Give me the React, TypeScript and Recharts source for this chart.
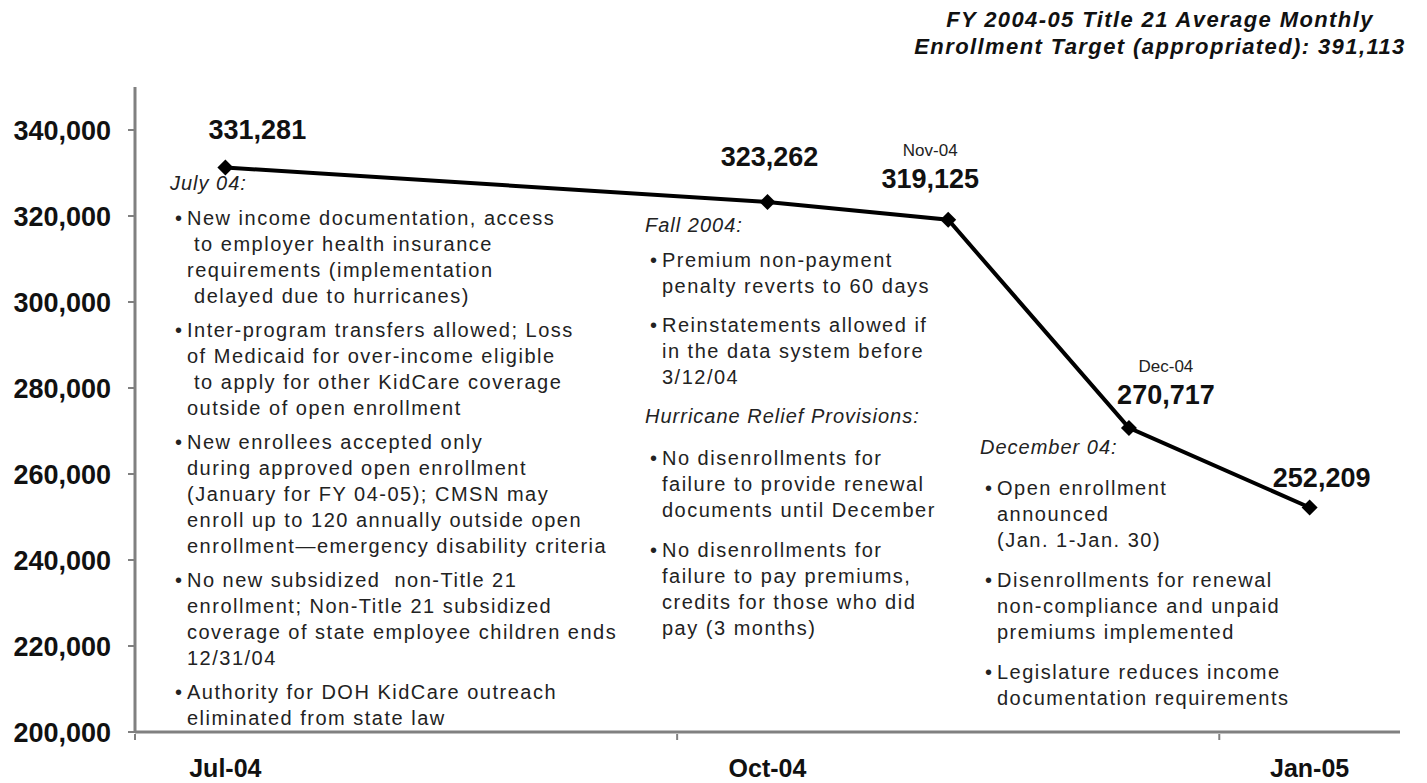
import { LineChart, Line, XAxis, YAxis } from "recharts";

// monthly slots on the x axis (Aug and Sep have no reported value)
const months = ["Jul-04", "Aug-04", "Sep-04", "Oct-04", "Nov-04", "Dec-04", "Jan-05"];
const pointSlots = [0, 3, 4, 5, 6];
const enrollment = [331281, 323262, 319125, 270717, 252209];
const pointTags = ["", "", "Nov-04", "Dec-04", ""];
const axisSlots = [0, 3, 6];
const yTicks = [200000, 220000, 240000, 260000, 280000, 300000, 320000, 340000];

const titleLines = [
  "FY 2004-05 Title 21 Average Monthly",
  "Enrollment Target (appropriated): 391,113",
];

const julyHeader = "July 04:";
const julyNotes = [
  ["New income documentation, access", " to employer health insurance", "requirements (implementation", " delayed due to hurricanes)"],
  ["Inter-program transfers allowed; Loss", "of Medicaid for over-income eligible", " to apply for other KidCare coverage", "outside of open enrollment"],
  ["New enrollees accepted only", "during approved open enrollment", "(January for FY 04-05); CMSN may", "enroll up to 120 annually outside open", "enrollment\u2014emergency disability criteria"],
  ["No new subsidized  non-Title 21", "enrollment; Non-Title 21 subsidized", "coverage of state employee children ends", "12/31/04"],
  ["Authority for DOH KidCare outreach", "eliminated from state law"],
];

const fallHeader = "Fall 2004:";
const fallNotes = [
  ["Premium non-payment", "penalty reverts to 60 days"],
  ["Reinstatements allowed if", "in the data system before", "3/12/04"],
];
const reliefHeader = "Hurricane Relief Provisions:";
const reliefNotes = [
  ["No disenrollments for", "failure to provide renewal", "documents until December"],
  ["No disenrollments for", "failure to pay premiums,", "credits for those who did", "pay (3 months)"],
];

const decHeader = "December 04:";
const decNotes = [
  ["Open enrollment", "announced", "(Jan. 1-Jan. 30)"],
  ["Disenrollments for renewal", "non-compliance and unpaid", "premiums implemented"],
  ["Legislature reduces income", "documentation requirements"],
];

const data = pointSlots.map((s, i) => ({ x: s + 0.5, v: enrollment[i], tag: pointTags[i] }));

// label placement relative to each point
const labelOffsets = [
  { dx: 32, dy: -37 },
  { dx: 2, dy: -45 },
  { dx: -18, dy: -41 },
  { dx: 37, dy: -33 },
  { dx: 12, dy: -30 },
];

const PLOT_LEFT = 135;
const PLOT_RIGHT = 1400;
const SLOT_W = (PLOT_RIGHT - PLOT_LEFT) / months.length;

const plain = "'Liberation Sans', Arial, sans-serif";
const fmt = (n: number) => n.toLocaleString("en-US");

function Diamond(props: any) {
  const { cx, cy } = props;
  if (cx == null || cy == null) return null;
  const r = 8;
  return <polygon points={`${cx},${cy - r} ${cx + r},${cy} ${cx},${cy + r} ${cx - r},${cy}`} fill="#000" />;
}

function PointLabel(props: any) {
  const { x, y, index } = props;
  const off = labelOffsets[index];
  const d = data[index];
  return (
    <g>
      {d.tag && (
        <text x={x + off.dx} y={y + off.dy - 28} textAnchor="middle" dominantBaseline="central"
          fontFamily={plain} fontSize={17} fill="#222">
          {d.tag}
        </text>
      )}
      <text x={x + off.dx} y={y + off.dy} textAnchor="middle" dominantBaseline="central"
        fontFamily={plain} fontWeight="bold" fontSize={27} fill="#111">
        {fmt(d.v)}
      </text>
    </g>
  );
}

function MonthTick(props: any) {
  const { x, y, payload } = props;
  const slot = Math.round(payload.value - 0.5);
  return (
    <g>
      <line x1={x - SLOT_W / 2} x2={x - SLOT_W / 2} y1={y} y2={y + 6} stroke="#808080" strokeWidth={2} />
      <text x={x} y={y + 34} textAnchor="middle" dominantBaseline="central"
        fontFamily={plain} fontWeight="bold" fontSize={25} fill="#111">
        {months[slot]}
      </text>
    </g>
  );
}

function NoteBlock({ left, top, header, groups, gap, headerGap }: any) {
  return (
    <div style={{ position: "absolute", left, top, fontFamily: plain, fontSize: 20, letterSpacing: 1.5, lineHeight: "26px", color: "#222", whiteSpace: "pre" }}>
      {header && <div style={{ fontStyle: "italic", letterSpacing: 1 }}>{header}</div>}
      {groups.map((g: string[], i: number) => (
        <div key={i} style={{ display: "flex", marginTop: i === 0 ? headerGap : gap }}>
          <span style={{ width: 12, marginLeft: 5 }}>•</span>
          <div>
            {g.map((line, j) => (
              <div key={j}>{line}</div>
            ))}
          </div>
        </div>
      ))}
    </div>
  );
}

export default function App() {
  return (
    <div style={{ position: "absolute", left: 0, top: 0, width: 1427, height: 783, background: "#fff", overflow: "hidden" }}>
      <div style={{ position: "absolute", left: 860, width: 600, top: 6, textAlign: "center", fontFamily: plain, fontWeight: "bold", fontStyle: "italic", fontSize: 22, letterSpacing: 1.4, lineHeight: "27px", color: "#111" }}>
        {titleLines.map((t) => (
          <div key={t}>{t}</div>
        ))}
      </div>
      <LineChart width={1427} height={783} data={data} margin={{ top: 87, right: 27, bottom: 0, left: 0 }}>
        <XAxis dataKey="x" type="number" domain={[0, months.length]} ticks={pointSlots.filter((s) => axisSlots.includes(s)).map((s) => s + 0.5)}
          height={51} tickSize={0} tickLine={false} axisLine={{ stroke: "#808080", strokeWidth: 3 }} tick={<MonthTick />} interval={0} />
        <YAxis type="number" domain={[200000, 350000]} ticks={yTicks} width={135} tickFormatter={fmt}
          axisLine={{ stroke: "#808080", strokeWidth: 3 }} tickLine={{ stroke: "#808080", strokeWidth: 2 }} tickSize={7} tickMargin={17}
          tick={{ fontFamily: plain, fontWeight: "bold", fontSize: 27, fill: "#111" }} interval={0} />
        <Line type="linear" dataKey="v" stroke="#000" strokeWidth={4} dot={<Diamond />} activeDot={false}
          label={<PointLabel />} isAnimationActive={false} />
      </LineChart>
      <NoteBlock left={170} top={170} header={julyHeader} groups={julyNotes} gap={8} headerGap={9} />
      <NoteBlock left={645} top={212} header={fallHeader} groups={fallNotes} gap={13} headerGap={9} />
      <NoteBlock left={645} top={403} header={reliefHeader} groups={reliefNotes} gap={14} headerGap={16} />
      <NoteBlock left={980} top={434} header={decHeader} groups={decNotes} gap={14} headerGap={15} />
    </div>
  );
}
